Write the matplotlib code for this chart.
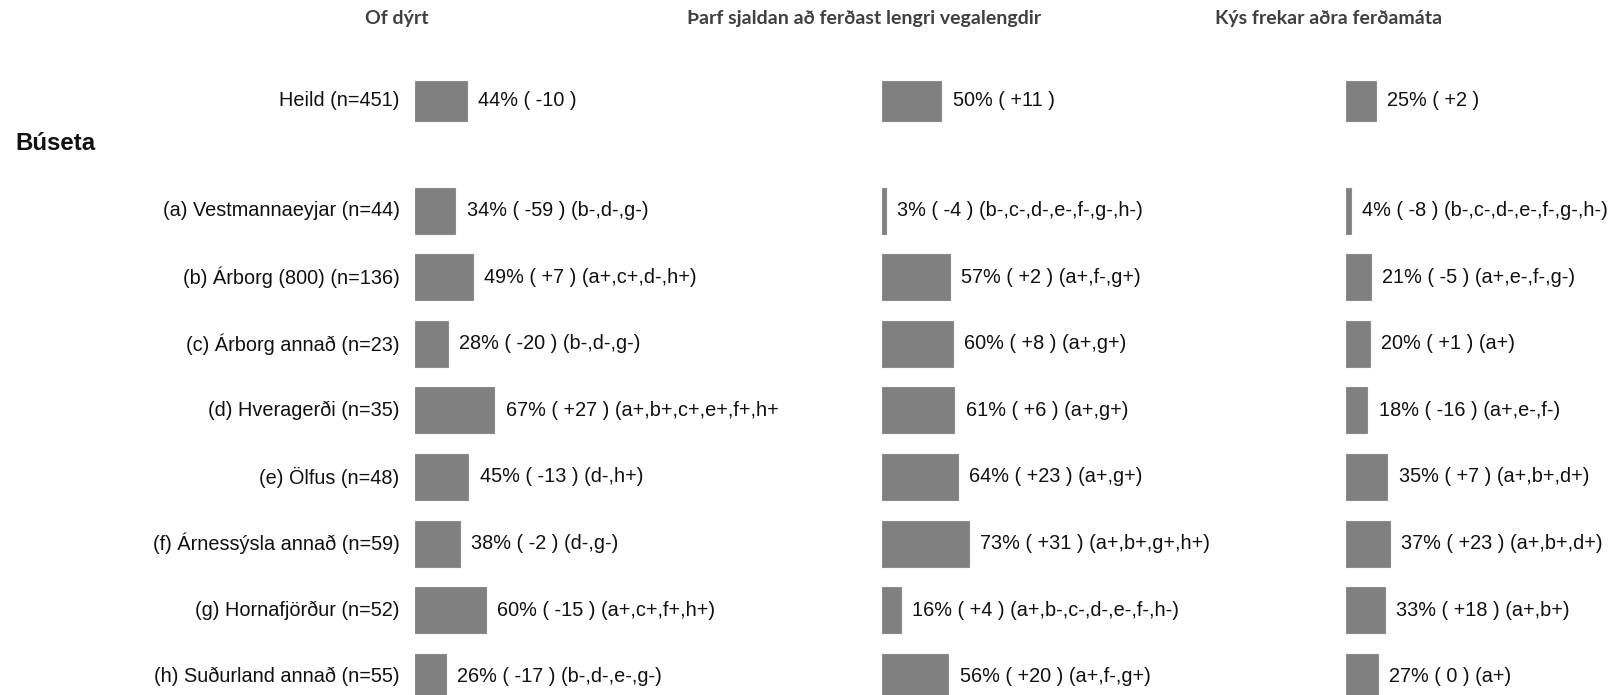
import matplotlib.pyplot as plt

# rows: Heild first, then the Búseta groups
row_labels = ['Heild (n=451)', '(a) Vestmannaeyjar (n=44)', '(b) Árborg (800) (n=136)',
              '(c) Árborg annað (n=23)', '(d) Hveragerði (n=35)', '(e) Ölfus (n=48)',
              '(f) Árnessýsla annað (n=59)', '(g) Hornafjörður (n=52)',
              '(h) Suðurland annað (n=55)']

titles = ['Of dýrt', 'Þarf sjaldan að ferðast lengri vegalengdir', 'Kýs frekar aðra ferðamáta']

dyrt = [44, 34, 49, 28, 67, 45, 38, 60, 26]
dyrt_diff = ['-10', '-59', '+7', '-20', '+27', '-13', '-2', '-15', '-17']
dyrt_sig = ['', '(b-,d-,g-)', '(a+,c+,d-,h+)', '(b-,d-,g-)', '(a+,b+,c+,e+,f+,h+',
            '(d-,h+)', '(d-,g-)', '(a+,c+,f+,h+)', '(b-,d-,e-,g-)']

sjaldan = [50, 3, 57, 60, 61, 64, 73, 16, 56]
sjaldan_diff = ['+11', '-4', '+2', '+8', '+6', '+23', '+31', '+4', '+20']
sjaldan_sig = ['', '(b-,c-,d-,e-,f-,g-,h-)', '(a+,f-,g+)', '(a+,g+)', '(a+,g+)',
               '(a+,g+)', '(a+,b+,g+,h+)', '(a+,b-,c-,d-,e-,f-,h-)', '(a+,f-,g+)']

adra = [25, 4, 21, 20, 18, 35, 37, 33, 27]
adra_diff = ['+2', '-8', '-5', '+1', '-16', '+7', '+23', '+18', '0']
adra_sig = ['', '(b-,c-,d-,e-,f-,g-,h-)', '(a+,e-,f-,g-)', '(a+)', '(a+,e-,f-)',
            '(a+,b+,d+)', '(a+,b+,d+)', '(a+,b+)', '(a+)']

columns = [(dyrt, dyrt_diff, dyrt_sig), (sjaldan, sjaldan_diff, sjaldan_sig),
           (adra, adra_diff, adra_sig)]

W, H = 1611, 695
fig = plt.figure(figsize=(W / 100, H / 100), dpi=100)

# y positions in row units; Heild sits a bit above the groups
ypos = [-1.65] + list(range(8))
heights = [0.6] + [0.69] * 8
px_per_pct = 1.185
row_px = 66.6
y_top = -210.6 / row_px
y_bot = (H - 210.6) / row_px
bar_left = [415, 882, 1346]
ax_w = 260

label_font = ['Liberation Sans', 'DejaVu Sans']
title_font = ['Lato', 'DejaVu Sans']

for c, (vals, diffs, sigs) in enumerate(columns):
    ax = fig.add_axes([bar_left[c] / W, 0, ax_w / W, 1])
    ax.set_xlim(0, ax_w / px_per_pct)
    ax.set_ylim(y_bot, y_top)
    ax.axis('off')
    ax.barh(ypos, vals, height=heights, color='#808080', edgecolor='#8c8c8c', linewidth=0.8)
    for y, v, d, s in zip(ypos, vals, diffs, sigs):
        txt = f'{v}% ( {d} )'
        if s:
            txt += ' ' + s
        ax.text(v + 9.5, y, txt, ha='left', va='center', fontsize=14.3,
                family=label_font, color='#111111')
    ax.text(-15, y_top + 18 / row_px, titles[c], ha='center', va='center',
            fontsize=14, fontweight='bold', family=title_font, color='#404040')
    if c == 0:
        for y, lab in zip(ypos, row_labels):
            ax.text(-13, y, lab, ha='right', va='center', fontsize=14.3,
                    family=label_font, color='#111111')

fig.text(15.5 / W, 1 - 143 / H, 'Búseta', ha='left', va='center', fontsize=17.3,
         fontweight='bold', family=label_font, color='#111111')

fig.savefig('out.png', dpi=100)
